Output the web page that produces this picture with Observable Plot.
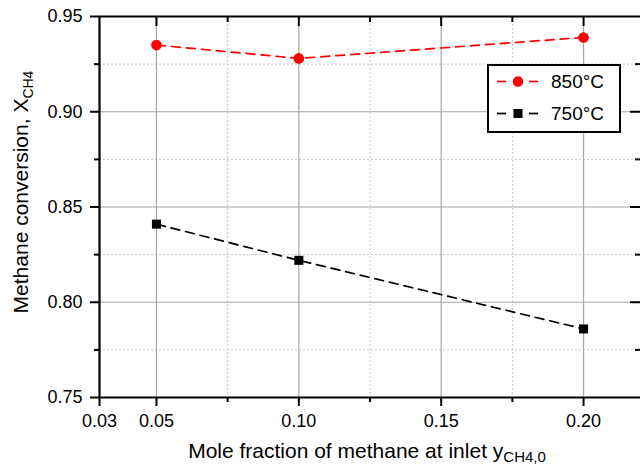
<!DOCTYPE html>
<html>
<head>
<meta charset="utf-8">
<script src="https://cdn.jsdelivr.net/npm/d3@7"></script>
<script src="https://cdn.jsdelivr.net/npm/@observablehq/plot@0.6"></script>
<style>
  body { margin: 0; background: #fff; }
  #chart svg { display: block; }
</style>
</head>
<body>
<div id="chart"></div>
<script>
// ---- data ----
const xValues = [0.05, 0.10, 0.20];
const conv850 = [0.935, 0.928, 0.939];
const conv750 = [0.841, 0.822, 0.786];
const seriesNames = ["850°C", "750°C"];
const seriesColors = ["#ff0000", "#000000"];

// ---- ticks ----
const xMajorTicks = [0.03, 0.05, 0.10, 0.15, 0.20];
const xMinorTicks = [0.075, 0.125, 0.175];
const yMajorTicks = [0.75, 0.80, 0.85, 0.90, 0.95];
const yMinorTicks = [0.775, 0.825, 0.875, 0.925];
const xDomain = [0.03, 0.22];
const yDomain = [0.75, 0.95];

// ---- text ----
const xTitle = "Mole fraction of methane at inlet y";
const xTitleSub = "CH4,0";
const yTitle = "Methane conversion, X";
const yTitleSub = "CH4";

const rows850 = xValues.map((x, i) => ({x, y: conv850[i]}));
const rows750 = xValues.map((x, i) => ({x, y: conv750[i]}));

const W = 640, H = 466, mL = 99, mR = 0, mT = 16, mB = 69;
const innerW = W - mL - mR, innerH = H - mT - mB;
const font = "'Liberation Sans', Arial, Helvetica, sans-serif";

const xGrid = xMajorTicks.filter(v => v > xDomain[0]);
const yGrid = yMajorTicks.filter(v => v > yDomain[0] && v < yDomain[1]);

const chart = Plot.plot({
  width: W, height: H,
  marginLeft: mL, marginRight: mR, marginTop: mT, marginBottom: mB,
  x: {domain: xDomain},
  y: {domain: yDomain},
  style: {fontFamily: font, fontSize: "18px", color: "#000", background: "#fff"},
  marks: [
    // grid
    Plot.ruleX(xMinorTicks, {stroke: "#c4c4c4", strokeDasharray: "2,2", strokeWidth: 1}),
    Plot.ruleY(yMinorTicks, {stroke: "#c4c4c4", strokeDasharray: "2,2", strokeWidth: 1}),
    Plot.ruleX(xGrid, {stroke: "#a6a6a6", strokeWidth: 1.2}),
    Plot.ruleY(yGrid, {stroke: "#a6a6a6", strokeWidth: 1.2}),
    // axes (outward ticks)
    Plot.axisX(xMajorTicks, {anchor: "bottom", tickSize: 9, tickPadding: 8, tickFormat: ".2f", label: null, fontSize: 18, strokeWidth: 2}),
    Plot.axisX(xMinorTicks, {anchor: "bottom", tickSize: 5, tickFormat: () => "", label: null, strokeWidth: 2}),
    Plot.axisY(yMajorTicks, {anchor: "left", tickSize: 9, tickPadding: 8, tickFormat: ".2f", label: null, fontSize: 18, strokeWidth: 2}),
    Plot.axisY(yMinorTicks, {anchor: "left", tickSize: 5, tickFormat: () => "", label: null, strokeWidth: 2}),
    // inward ticks on top and right
    Plot.ruleX(xGrid, {insetBottom: innerH - 10, strokeWidth: 2}),
    Plot.ruleX(xMinorTicks, {insetBottom: innerH - 6, strokeWidth: 2}),
    Plot.ruleY(yGrid, {insetLeft: innerW - 10, strokeWidth: 2}),
    Plot.ruleY(yMinorTicks, {insetLeft: innerW - 5, strokeWidth: 2}),
    // frame lines
    Plot.ruleX([xDomain[0]], {strokeWidth: 2.2}),
    Plot.ruleY(yDomain, {strokeWidth: 2.2}),
    // series
    Plot.line(rows850, {x: "x", y: "y", stroke: seriesColors[0], strokeWidth: 1.7, strokeDasharray: "9,6"}),
    Plot.line(rows750, {x: "x", y: "y", stroke: seriesColors[1], strokeWidth: 1.7, strokeDasharray: "9,6"}),
    Plot.dot(rows850, {x: "x", y: "y", r: 5.3, fill: seriesColors[0], stroke: null}),
    Plot.dot(rows750, {x: "x", y: "y", r: 5.1, symbol: "square", fill: seriesColors[1], stroke: null})
  ]
});

document.getElementById("chart").appendChild(chart);

const svg = d3.select(chart);

// x title with subscript
const xt = svg.append("text")
  .attr("x", 367).attr("y", 458)
  .attr("text-anchor", "middle")
  .attr("font-family", font).attr("font-size", 21).attr("fill", "#000");
xt.append("tspan").text(xTitle);
xt.append("tspan").attr("font-size", 15).attr("dy", 4).text(xTitleSub);

// y title with subscript
const yt = svg.append("text")
  .attr("transform", "translate(28,192) rotate(-90)")
  .attr("text-anchor", "middle")
  .attr("font-family", font).attr("font-size", 21).attr("fill", "#000");
yt.append("tspan").text(yTitle);
yt.append("tspan").attr("font-size", 14).attr("dy", 5).text(yTitleSub);

// legend
const lg = svg.append("g").attr("font-family", font);
lg.append("rect").attr("x", 488).attr("y", 65).attr("width", 132).attr("height", 67)
  .attr("fill", "#fff").attr("stroke", "#000").attr("stroke-width", 2);
const rowsY = [81.5, 113.5];
seriesNames.forEach((name, i) => {
  const y = rowsY[i], c = seriesColors[i];
  lg.append("line").attr("x1", 497).attr("x2", 506).attr("y1", y).attr("y2", y)
    .attr("stroke", c).attr("stroke-width", 1.7);
  lg.append("line").attr("x1", 529).attr("x2", 538).attr("y1", y).attr("y2", y)
    .attr("stroke", c).attr("stroke-width", 1.7);
  if (i === 0) {
    lg.append("circle").attr("cx", 518).attr("cy", y).attr("r", 5.3).attr("fill", c);
  } else {
    lg.append("rect").attr("x", 513.5).attr("y", y - 4.5).attr("width", 9).attr("height", 9).attr("fill", c);
  }
  lg.append("text").attr("x", 551).attr("y", y + 6.8)
    .attr("text-anchor", "start")
    .attr("font-size", 19).attr("fill", "#000").text(name);
});
</script>
</body>
</html>
